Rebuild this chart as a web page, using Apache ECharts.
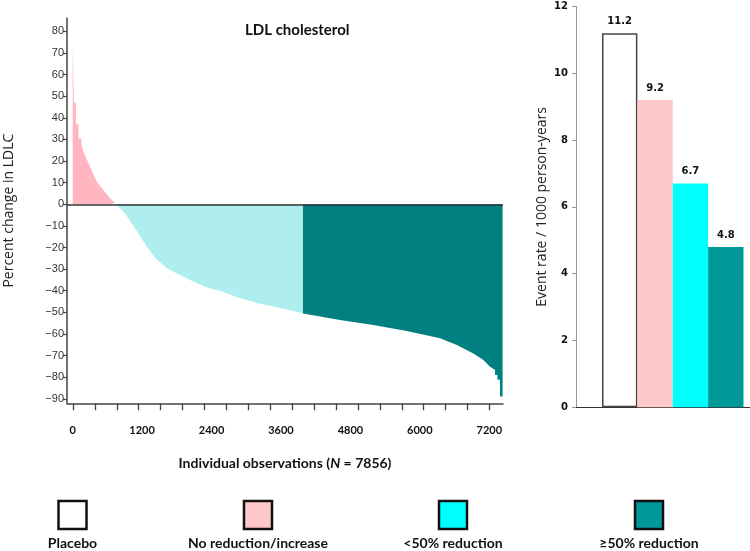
<!DOCTYPE html>
<html>
<head>
<meta charset="utf-8">
<title>LDL cholesterol</title>
<script src="https://cdn.jsdelivr.net/npm/echarts@6/dist/echarts.min.js"></script>
<style>
html,body{margin:0;padding:0;background:#fff}
#chart{width:750px;height:551px}
</style>
</head>
<body>
<div id="chart"></div>
<script>
// 个体LDL变化瀑布图：[观测序号, 百分比变化]
var incData = [[0,74],[22,74],[22,47],[57,47],[57,37],[100,37],[100,30.5],[150,30.5],[150,28],
	[185,24.4],[300,17.4],[415,10.5],[530,6.6],[645,2.8],[730,0.7],[748,0]];
var lt50Data = [[748,0],[900,-4],[1100,-12],[1290,-20],[1450,-25.5],[1647,-30],[2027,-35],
	[2320,-38.5],[2546,-40],[2892,-43.5],[3237,-46],[3583,-48],[3980,-50.4]];
var ge50Data = [[3980,-50.5],[4620,-53.6],[5196,-55.9],[5773,-58.7],[6350,-62],[6639,-65.1],
	[6925,-69],[7098,-72.1],[7213,-75.2],[7300,-76.7],[7300,-79],[7340,-79],[7340,-81.2],
	[7385,-81.2],[7385,-89],[7430,-89]];

var obsLabels = [0,1200,2400,3600,4800,6000,7200];
var pctLabels = [80,70,60,50,40,30,20,10,0,-10,-20,-30,-40,-50,-60,-70,-80,-90];

// 右侧事件率柱状图
var groups = ['Placebo','No reduction/increase','<50% reduction','\u226550% reduction'];
var rates = [11.2, 9.2, 6.7, 4.8];
var barColors = ['#ffffff','#ffc8c8','#00ffff','#009999'];

// 横轴刻度线（原图刻度与标签不对齐，0到7200之间共19格）
var obsTicks = [];
for (var i = 0; i <= 19; i++) obsTicks.push(Math.round(i * 7200 / 19));

var myChart = echarts.init(document.getElementById('chart'));

var legendX = [72.5, 258, 453, 649];
var legendGraphics = [];
groups.forEach(function(g, i){
	legendGraphics.push({
		type: 'rect',
		shape: {x: legendX[i] - 14, y: 501, width: 28, height: 28},
		style: {fill: barColors[i], stroke: '#111', lineWidth: 2.5}
	});
	legendGraphics.push({
		type: 'text',
		x: legendX[i], y: 543,
		style: {text: g, align: 'center', verticalAlign: 'middle',
			fontFamily: 'Lato', fontWeight: 'bold', fontSize: 14, fill: '#111'}
	});
});

var option = {
	animation: false,
	title: {
		text: 'LDL cholesterol',
		left: 240, top: 18,
		textStyle: {fontFamily: 'Lato', fontWeight: 'bold', fontSize: 15, color: '#111'}
	},
	grid: [
		{left: 67, top: 18, width: 436, height: 385.3, outerBoundsMode: 'none'},
		{left: 576, top: 6.5, width: 174, height: 400.8, outerBoundsMode: 'none'}
	],
	xAxis: [
		{
			gridIndex: 0, type: 'value', position: 'bottom', min: -98, max: 7437,
			splitLine: {show: false},
			axisLine: {onZero: false, lineStyle: {color: '#444', width: 1.5}},
			axisTick: {show: false},
			axisLabel: {customValues: obsLabels, margin: 22, fontFamily: 'Lato', fontWeight: 'bold',
				fontSize: 11, color: '#111', formatter: function(v){ return String(v); }},
			name: '{a|Individual observations (}{i|N}{a| = 7856)}',
			nameLocation: 'middle', nameGap: 53,
			nameTextStyle: {rich: {
				a: {fontFamily: 'Lato', fontWeight: 'bold', fontSize: 14, color: '#111'},
				i: {fontFamily: 'Lato', fontWeight: 'bold', fontStyle: 'italic', fontSize: 14, color: '#111'}
			}}
		},
		{
			gridIndex: 1, type: 'value', min: -1.2355, max: 3.684,
			splitLine: {show: false},
			axisLine: {onZero: false, lineStyle: {color: '#333', width: 1.2}},
			axisTick: {show: false},
			axisLabel: {show: false}
		}
	],
	yAxis: [
		{
			gridIndex: 0, type: 'value', min: -92.1, max: 86.2,
			splitLine: {show: false},
			axisLine: {show: true, onZero: false, lineStyle: {color: '#444', width: 1.5}},
			axisTick: {show: true, customValues: pctLabels, length: 4, lineStyle: {color: '#444', width: 1.2}},
			axisLabel: {customValues: pctLabels, margin: 3, fontFamily: 'Liberation Sans Narrow, Liberation Sans, sans-serif',
				fontSize: 11, color: '#333',
				formatter: function(v){ return String(v).replace('-', '\u2212'); }},
			name: 'Percent change in LDLC',
			nameLocation: 'middle', nameGap: 51,
			nameTextStyle: {fontFamily: 'Open Sans', fontSize: 14, color: '#222'}
		},
		{
			gridIndex: 1, type: 'value', min: 0, max: 12, interval: 2,
			splitLine: {show: false},
			axisLine: {show: true, onZero: false, lineStyle: {color: '#999'}},
			axisTick: {show: true, length: 4, lineStyle: {color: '#999'}},
			axisLabel: {margin: 8, fontFamily: 'DejaVu Sans', fontWeight: 'bold', fontSize: 10, color: '#111'},
			name: 'Event rate / 1000 person-years',
			nameLocation: 'middle', nameGap: 27,
			nameTextStyle: {fontFamily: 'Open Sans', fontSize: 14, color: '#222'}
		}
	],
	graphic: legendGraphics,
	series: [
		{
			type: 'line', xAxisIndex: 0, yAxisIndex: 0, data: incData,
			symbol: 'none', silent: true,
			lineStyle: {width: 0}, areaStyle: {color: '#ffb6c1', opacity: 1}
		},
		{
			type: 'line', xAxisIndex: 0, yAxisIndex: 0, data: lt50Data,
			symbol: 'none', silent: true,
			lineStyle: {width: 0}, areaStyle: {color: '#afeeee', opacity: 1}
		},
		{
			type: 'line', xAxisIndex: 0, yAxisIndex: 0, data: ge50Data,
			symbol: 'none', silent: true,
			lineStyle: {width: 0}, areaStyle: {color: '#008080', opacity: 1},
			markLine: {
				silent: true, symbol: ['none','none'],
				label: {show: false},
				lineStyle: {color: '#333', width: 1.5, type: 'solid'},
				data: [{yAxis: 0}]
			}
		},
		{
			type: 'bar', xAxisIndex: 1, yAxisIndex: 1, barWidth: 35.4,
			data: rates.map(function(v, i){
				return {
					value: [i, v],
					itemStyle: {color: barColors[i], borderColor: i === 0 ? '#444' : barColors[i],
						borderWidth: i === 0 ? 1.5 : 0}
				};
			}),
			label: {
				show: true, position: 'top', distance: 7,
				fontFamily: 'DejaVu Sans', fontWeight: 'bold', fontSize: 10, color: '#111',
				formatter: function(p){ return p.value[1].toFixed(1); }
			}
		}
	]
};
myChart.setOption(option);

// 横轴刻度线在这个环境里画不出来，改用坐标换算后用graphic画
var axisY = myChart.convertToPixel({yAxisIndex: 0}, -92.1);
var tickGraphics = obsTicks.map(function(t){
	var px = Math.round(myChart.convertToPixel({xAxisIndex: 0}, t)) + 0.5;
	return {
		type: 'line', silent: true,
		shape: {x1: px, y1: axisY, x2: px, y2: axisY + 7},
		style: {stroke: '#444', lineWidth: 1.3}
	};
});
myChart.setOption({graphic: legendGraphics.concat(tickGraphics)});
</script>
</body>
</html>
